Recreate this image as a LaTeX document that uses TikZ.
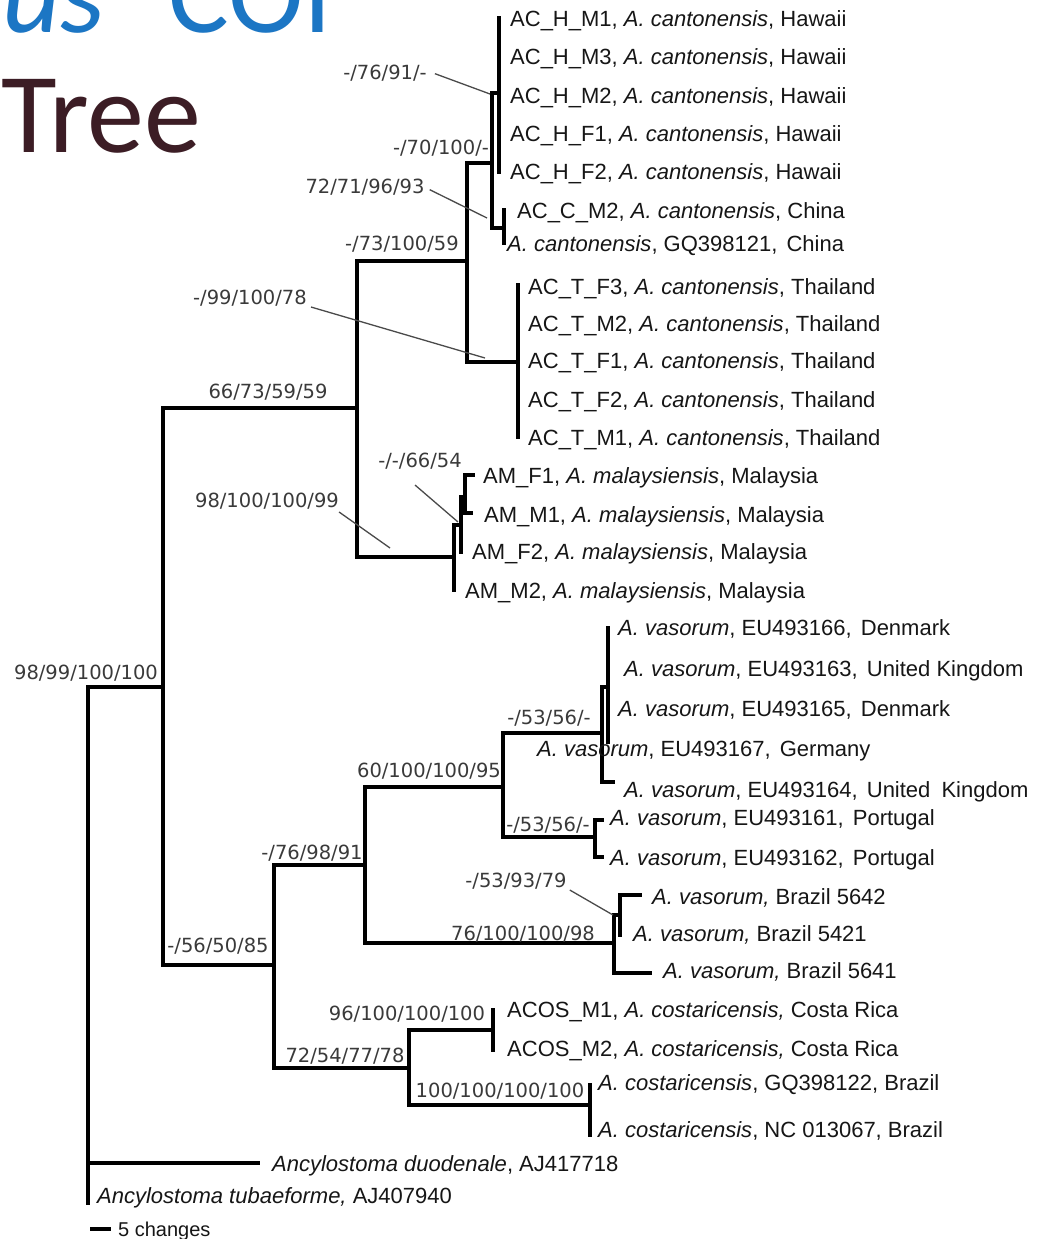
\documentclass[tikz,border=0pt]{standalone}
\usepackage{fontspec}
\setmainfont{Liberation Sans}
\newfontfamily\dvfont{DejaVu Sans}
\newfontfamily\ttlfont{Carlito}
\definecolor{labc}{HTML}{161616}
\definecolor{supc}{HTML}{3A3A3A}
\definecolor{ldrc}{HTML}{4A4A4A}
\definecolor{ttlblue}{HTML}{1C76C4}
\definecolor{ttlred}{HTML}{3C1D25}
\begin{document}
\begin{tikzpicture}[x=1pt,y=-1pt,
  br/.style={line width=3.4pt, line cap=rect, line join=miter, draw=black},
  ldr/.style={line width=1.3pt, draw=ldrc},
  lab/.style={anchor=base west, inner sep=0pt, text=labc, font=\fontsize{22}{26}\selectfont},
  supv/.style={anchor=base, inner sep=0pt, text=supc, font=\dvfont\fontsize{19.5}{22}\selectfont},
  ttl/.style={anchor=base west, inner sep=0pt, font=\ttlfont\fontsize{114}{120}\selectfont}]
\useasboundingbox (0,0) rectangle (1050,1239);
\fill[white] (0,0) rectangle (1050,1239);

% ---------- title ----------
\node[ttl, text=ttlblue] (tus) at (2,33) {\itshape us};
\node[ttl, text=ttlblue] (tcoi) at (168,33) {COI};
\node[ttl, text=ttlred] (ttree) at (1,152) {Tree};

% ---------- internal nodes ----------
\coordinate (R) at (88,687);
\coordinate (I) at (163,687);
\coordinate (A) at (357,408);
\coordinate (B) at (467,261);
\coordinate (C) at (492,163);
\coordinate (Dh) at (499,93);
\coordinate (E) at (504,228);
\coordinate (F) at (518,362);
\coordinate (G) at (454,557);
\coordinate (H) at (461,525);
\coordinate (K) at (465,497);
\coordinate (J) at (274,965);
\coordinate (L) at (365,865);
\coordinate (N) at (503,787);
\coordinate (P) at (602,733);
\coordinate (S) at (608,687);
\coordinate (Q) at (595,837);
\coordinate (O) at (614,943);
\coordinate (U) at (620,915);
\coordinate (M) at (409,1068);
\coordinate (V) at (493,1030);
\coordinate (W) at (590,1105);
% ---------- tips ----------
\coordinate (t1) at (499,18);
\coordinate (t2) at (499,56);
\coordinate (t3) at (499,94);
\coordinate (t4) at (499,132);
\coordinate (t5) at (499,172);
\coordinate (t6) at (504,210);
\coordinate (t7) at (504,243);
\coordinate (t8) at (518,285);
\coordinate (t9) at (518,323);
\coordinate (t10) at (518,360);
\coordinate (t11) at (518,399);
\coordinate (t12) at (518,437);
\coordinate (t13) at (473,475);
\coordinate (t14) at (471,513);
\coordinate (t15) at (461,552);
\coordinate (t16) at (454,590);
\coordinate (t17) at (608,628);
\coordinate (t18) at (608,668);
\coordinate (t19) at (608,708);
\coordinate (t20) at (608,742);
\coordinate (t21) at (613,782);
\coordinate (t22) at (602,820);
\coordinate (t23) at (602,857);
\coordinate (t24) at (640,895);
\coordinate (t25) at (620,935);
\coordinate (t26) at (650,973);
\coordinate (t27) at (493,1010);
\coordinate (t28) at (493,1050);
\coordinate (t29) at (590,1085);
\coordinate (t30) at (590,1135);
\coordinate (t31) at (258,1163);
\coordinate (t32) at (88,1203);

% ---------- branches ----------
\draw[br] (R) |- (I);
\draw[br] (R) |- (t31);
\draw[br] (R) |- (t32);
\draw[br] (I) |- (A);
\draw[br] (I) |- (J);
\draw[br] (A) |- (B);
\draw[br] (A) |- (G);
\draw[br] (B) |- (C);
\draw[br] (B) |- (F);
\draw[br] (C) |- (Dh);
\draw[br] (C) |- (E);
\foreach \t in {t1,t2,t3,t4,t5} \draw[br] (Dh) |- (\t);
\foreach \t in {t6,t7} \draw[br] (E) |- (\t);
\foreach \t in {t8,t9,t10,t11,t12} \draw[br] (F) |- (\t);
\draw[br] (G) |- (H);
\draw[br] (G) |- (t16);
\draw[br] (H) |- (K);
\draw[br] (H) |- (t15);
\draw[br] (K) |- (t13);
\draw[br] (K) |- (t14);
\draw[br] (J) |- (L);
\draw[br] (J) |- (M);
\draw[br] (L) |- (N);
\draw[br] (L) |- (O);
\draw[br] (N) |- (P);
\draw[br] (N) |- (Q);
\draw[br] (P) |- (S);
\draw[br] (P) |- (t21);
\foreach \t in {t17,t18,t19,t20} \draw[br] (S) |- (\t);
\draw[br] (Q) |- (t22);
\draw[br] (Q) |- (t23);
\draw[br] (O) |- (U);
\draw[br] (O) |- (t26);
\draw[br] (U) |- (t24);
\draw[br] (U) |- (t25);
\draw[br] (M) |- (V);
\draw[br] (M) |- (W);
\draw[br] (V) |- (t27);
\draw[br] (V) |- (t28);
\draw[br] (W) |- (t29);
\draw[br] (W) |- (t30);

% ---------- tip labels ----------
\node[lab] (l1) at (510,27) {AC\_H\_M1, \textit{A. cantonensis}, Hawaii};
\node[lab] (l2) at (510,65) {AC\_H\_M3, \textit{A. cantonensis}, Hawaii};
\node[lab] (l3) at (510,103) {AC\_H\_M2, \textit{A. cantonensis}, Hawaii};
\node[lab] (l4) at (510,141) {AC\_H\_F1, \textit{A. cantonensis}, Hawaii};
\node[lab] (l5) at (510,179) {AC\_H\_F2, \textit{A. cantonensis}, Hawaii};
\node[lab] (l6) at (517,218) {AC\_C\_M2, \textit{A. cantonensis}, China};
\node[lab] (l7) at (507,251) {\textit{A. cantonensis}, GQ398121,\hspace{3pt} China};
\node[lab] (l8) at (528,294) {AC\_T\_F3, \textit{A. cantonensis}, Thailand};
\node[lab] (l9) at (528,331) {AC\_T\_M2, \textit{A. cantonensis}, Thailand};
\node[lab] (l10) at (528,368) {AC\_T\_F1, \textit{A. cantonensis}, Thailand};
\node[lab] (l11) at (528,407) {AC\_T\_F2, \textit{A. cantonensis}, Thailand};
\node[lab] (l12) at (528,445) {AC\_T\_M1, \textit{A. cantonensis}, Thailand};
\node[lab] (l13) at (483,483) {AM\_F1, \textit{A. malaysiensis}, Malaysia};
\node[lab] (l14) at (484,522) {AM\_M1, \textit{A. malaysiensis}, Malaysia};
\node[lab] (l15) at (472,559) {AM\_F2, \textit{A. malaysiensis}, Malaysia};
\node[lab] (l16) at (465,598) {AM\_M2, \textit{A. malaysiensis}, Malaysia};
\node[lab] (l17) at (618,635) {\textit{A. vasorum}, EU493166,\hspace{3pt} Denmark};
\node[lab] (l18) at (624,676) {\textit{A. vasorum}, EU493163,\hspace{3pt} United Kingdom};
\node[lab] (l19) at (618,716) {\textit{A. vasorum}, EU493165,\hspace{3pt} Denmark};
\node[lab] (l20) at (537,756) {\textit{A. vasorum}, EU493167,\hspace{3pt} Germany};
\node[lab] (l21) at (624,797) {\textit{A. vasorum}, EU493164,\hspace{3pt} United\hspace{5pt} Kingdom};
\node[lab] (l22) at (610,825) {\textit{A. vasorum}, EU493161,\hspace{3pt} Portugal};
\node[lab] (l23) at (610,865) {\textit{A. vasorum}, EU493162,\hspace{3pt} Portugal};
\node[lab] (l24) at (652,904) {\textit{A. vasorum,} Brazil 5642};
\node[lab] (l25) at (633,941) {\textit{A. vasorum,} Brazil 5421};
\node[lab] (l26) at (663,978) {\textit{A. vasorum,} Brazil 5641};
\node[lab] (l27) at (507,1017) {ACOS\_M1, \textit{A. costaricensis,} Costa Rica};
\node[lab] (l28) at (507,1056) {ACOS\_M2, \textit{A. costaricensis,} Costa Rica};
\node[lab] (l29) at (598,1090) {\textit{A. costaricensis}, GQ398122, Brazil};
\node[lab] (l30) at (598,1137) {\textit{A. costaricensis}, NC 013067, Brazil};
\node[lab] (l31) at (272,1171) {\textit{Ancylostoma duodenale}, AJ417718};
\node[lab] (l32) at (97,1203) {\textit{Ancylostoma tubaeforme,} AJ407940};

% ---------- scale bar ----------
\coordinate (sb1) at (90,1229);
\coordinate (sb2) at (111,1229);
\draw[br, line cap=butt] (sb1) -- (sb2);
\node[lab, font=\fontsize{20}{24}\selectfont] (l33) at (118,1236) {5 changes};

% ---------- support values ----------
\node[supv] (s1) at (385,79) {-/76/91/-};
\node[supv] (s2) at (441,154) {-/70/100/-};
\node[supv] (s3) at (365,193) {72/71/96/93};
\node[supv] (s4) at (402,250) {-/73/100/59};
\node[supv] (s5) at (250,304) {-/99/100/78};
\node[supv] (s6) at (268,398) {66/73/59/59};
\node[supv] (s7) at (420,467) {-/-/66/54};
\node[supv] (s8) at (267,507) {98/100/100/99};
\node[supv] (s9) at (86,679) {98/99/100/100};
\node[supv] (s10) at (549,724) {-/53/56/-};
\node[supv] (s11) at (429,777) {60/100/100/95};
\node[supv] (s12) at (548,831) {-/53/56/-};
\node[supv] (s13) at (312,859) {-/76/98/91};
\node[supv] (s14) at (516,887) {-/53/93/79};
\node[supv] (s15) at (523,940) {76/100/100/98};
\node[supv] (s16) at (218,952) {-/56/50/85};
\node[supv] (s17) at (407,1020) {96/100/100/100};
\node[supv] (s18) at (345,1062) {72/54/77/78};
\node[supv] (s19) at (500,1097) {100/100/100/100};

% ---------- leader lines ----------
\coordinate (e1) at (490,94);
\coordinate (e3) at (487,218);
\coordinate (e5) at (485,358);
\coordinate (e7) at (458,522);
\coordinate (e8) at (390,548);
\coordinate (e14) at (613,915);
\draw[ldr] ([xshift=8pt,yshift=-1pt]s1.east) -- (e1);
\draw[ldr] ([xshift=5pt,yshift=-3pt]s3.east) -- (e3);
\draw[ldr] ([xshift=4pt,yshift=-1pt]s5.south east) -- (e5);
\draw[ldr] ([xshift=-5pt,yshift=-16pt]s7.south) -- (e7);
\draw[ldr] ([yshift=-3pt]s8.south east) -- (e8);
\draw[ldr] ([xshift=3pt,yshift=-1pt]s14.south east) -- (e14);
\end{tikzpicture}
\end{document}
